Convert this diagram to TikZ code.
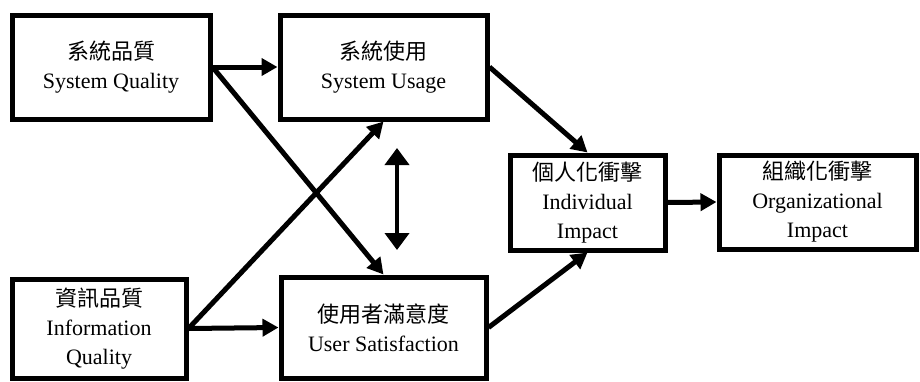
\documentclass[tikz,border=0pt]{standalone}
\usepackage{fontspec}
\setmainfont{Liberation Serif}
\newfontfamily\cjk{Noto Sans CJK TC}
\usetikzlibrary{arrows.meta}

\begin{document}
\begin{tikzpicture}[
    x=1pt, y=-1pt,
    % Cajas con borde grueso y texto centrado en dos o tres líneas
    caja/.style={draw=black, line width=5pt, fill=white, inner sep=0pt, align=center, font=\fontsize{22}{29}\selectfont},
    % Flechas rellenas de punta triangular
    flechaCausa/.style={-{Triangle[length=16pt,width=17pt]}, line width=5pt},
    flechaMutua/.style={{Triangle[length=17pt,width=24pt]}-{Triangle[length=17pt,width=24pt]}, line width=4pt}
]
    \useasboundingbox (0,0) rectangle (920,381);

    % --- CAJAS DEL MODELO ---
    % Columna izquierda
    \node[caja, minimum width=198pt, minimum height=104pt] (sysQ) at (111,67)    {{\cjk 系統品質}\\System Quality};
    \node[caja, minimum width=174pt, minimum height=99pt]  (infoQ) at (99,328.5) {{\cjk 資訊品質}\\Information\\Quality};

    % Columna central
    \node[caja, minimum width=207pt, minimum height=104pt] (uso) at (383.5,67)      {{\cjk 系統使用}\\System Usage};
    \node[caja, minimum width=205pt, minimum height=101pt] (satis) at (383.5,327.5) {{\cjk 使用者滿意度}\\User Satisfaction};

    % Impactos
    \node[caja, minimum width=155pt, minimum height=95pt] (indiv) at (587.5,202.5) {{\cjk 個人化衝擊}\\Individual\\Impact};
    \node[caja, minimum width=197pt, minimum height=94pt] (organ) at (817.5,202)   {{\cjk 組織化衝擊}\\Organizational\\Impact};

    % Extremos de la flecha doble
    \coordinate (mutuaArriba) at (397,148);
    \coordinate (mutuaAbajo)  at (397,250);


    % --- FLECHAS ---
    \draw[flechaCausa] (sysQ.east) -- (uso.west);
    \draw[flechaCausa] (sysQ.east) -- (satis.north);
    \draw[flechaCausa] (infoQ.east) -- (satis.west);
    \draw[flechaCausa] (infoQ.east) -- (uso.south);

    \draw[flechaMutua] (mutuaArriba) -- (mutuaAbajo);

    \draw[flechaCausa] (uso.east) -- (indiv.north);
    \draw[flechaCausa] (satis.east) -- (indiv.south);
    \draw[flechaCausa] (indiv.east) -- (organ.west);

\end{tikzpicture}
\end{document}
